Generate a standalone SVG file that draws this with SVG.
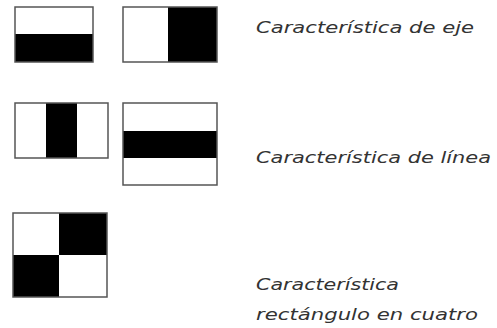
<svg xmlns="http://www.w3.org/2000/svg" width="497" height="328" viewBox="0 0 497 328">
<style>
.frame{fill:none;stroke:#555;stroke-width:1.5}
.blk{fill:#000}
.lbl{font-family:"DejaVu Sans",sans-serif;font-style:italic;font-size:15px;fill:#333}
</style>
<rect width="497" height="328" fill="#fff"/>
<g id="edge1">
<rect class="blk" x="15" y="34" width="78" height="28"/>
<rect class="frame" x="15" y="7" width="78" height="55"/>
</g>
<g id="edge2">
<rect class="blk" x="168" y="7" width="49" height="55"/>
<rect class="frame" x="123" y="7" width="94" height="55"/>
</g>
<g id="line1">
<rect class="blk" x="46" y="103" width="31" height="55"/>
<rect class="frame" x="15" y="103" width="93" height="55"/>
</g>
<g id="line2">
<rect class="blk" x="123" y="131" width="94" height="27"/>
<rect class="frame" x="123" y="103" width="94" height="82"/>
</g>
<g id="four">
<rect class="blk" x="59" y="213" width="48" height="42"/>
<rect class="blk" x="13" y="255" width="46" height="42"/>
<rect class="frame" x="13" y="213" width="94" height="84"/>
</g>
<g id="labels">
<text class="lbl" x="256" y="33" textLength="218" lengthAdjust="spacingAndGlyphs">Característica de eje</text>
<text class="lbl" x="256" y="163" textLength="235" lengthAdjust="spacingAndGlyphs">Característica de línea</text>
<text class="lbl" x="256" y="290" textLength="143" lengthAdjust="spacingAndGlyphs">Característica</text>
<text class="lbl" x="256" y="320" textLength="222" lengthAdjust="spacingAndGlyphs">rectángulo en cuatro</text>
</g>
</svg>
